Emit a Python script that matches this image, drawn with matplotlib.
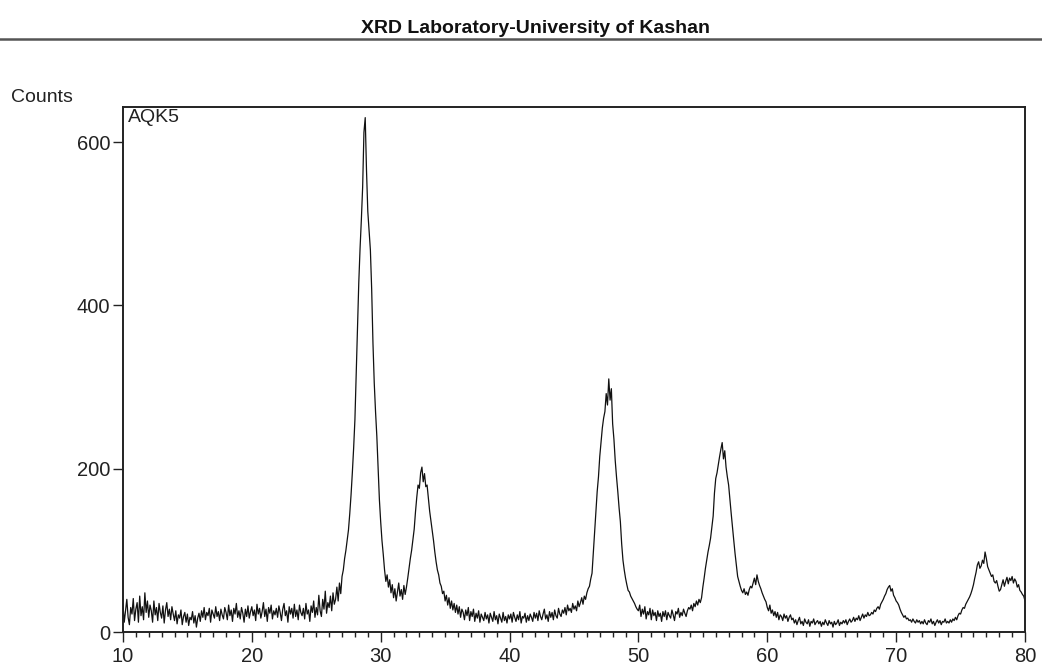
import matplotlib.pyplot as plt
import numpy as np
from matplotlib.lines import Line2D
from matplotlib.ticker import MultipleLocator

plt.rcParams['font.family'] = ['Liberation Sans', 'DejaVu Sans']

# 2-theta scan, 10-80 deg in 0.1 deg steps
two_theta_start = 10.0
two_theta_step = 0.1

# counts, one row per 2 degrees
counts = [
    34, 12, 26, 40, 18, 9, 30, 22, 41, 14, 28, 36, 12, 44, 20, 31, 15, 48, 24, 38,                    # 10
    18, 33, 26, 12, 38, 21, 30, 14, 35, 24, 17, 32, 11, 27, 36, 19, 28, 15, 31, 22,                    # 12
    14, 26, 10, 21, 17, 27, 9, 19, 24, 12, 22, 8, 18, 15, 25, 11, 20, 6, 17, 23,                       # 14
    13, 26, 18, 30, 15, 24, 20, 29, 12, 27, 22, 17, 31, 19, 25, 14, 28, 21, 16, 30,                    # 16
    24, 15, 33, 20, 27, 13, 29, 22, 35, 18, 26, 16, 30, 23, 12, 28, 19, 32, 17, 25,                    # 18
    31, 20, 27, 14, 34, 22, 29, 17, 25, 36, 19, 28, 13, 30, 23, 33, 16, 26, 21, 29,                    # 20
    18, 32, 24, 14, 28, 35, 20, 26, 12, 31, 22, 29, 17, 34, 19, 27, 15, 33, 24, 20,                    # 22
    29, 16, 35, 22, 27, 13, 32, 24, 38, 18, 30, 21, 45, 26, 19, 40, 28, 50, 23, 36,                    # 24
    30, 44, 26, 48, 34, 40, 55, 38, 60, 47, 68, 76, 90, 100, 112, 125, 145, 168, 195, 225,             # 26
    260, 315, 370, 428, 470, 505, 545, 612, 630, 565, 515, 492, 468, 420, 354, 305, 270, 240, 200, 162,  # 28
    135, 112, 95, 76, 62, 70, 55, 64, 48, 58, 42, 53, 38, 49, 60, 44, 52, 40, 57, 46,                  # 30
    55, 66, 78, 90, 100, 113, 126, 147, 165, 180, 176, 195, 202, 184, 194, 178, 180, 164, 148, 136,    # 32
    124, 112, 98, 86, 76, 70, 60, 56, 47, 50, 38, 45, 33, 42, 29, 38, 27, 35, 24, 33,                  # 34
    22, 31, 18, 28, 24, 15, 27, 20, 30, 14, 25, 19, 28, 13, 23, 17, 26, 12, 22, 18,                    # 36
    14, 24, 16, 21, 11, 23, 18, 13, 25, 15, 20, 10, 22, 17, 12, 24, 14, 19, 11, 21,                    # 38
    16, 22, 12, 24, 18, 13, 21, 15, 25, 11, 19, 17, 23, 12, 20, 14, 22, 18, 13, 24,                    # 40
    17, 23, 14, 26, 19, 15, 22, 28, 16, 21, 13, 25, 18, 24, 15, 27, 20, 17, 29, 22,                    # 42
    19, 27, 23, 30, 21, 33, 26, 29, 24, 35, 28, 32, 26, 38, 31, 36, 42, 34, 44, 40,                    # 44
    48, 53, 56, 65, 72, 96, 122, 148, 172, 190, 215, 232, 250, 262, 270, 292, 278, 310, 284, 298,      # 46
    255, 236, 210, 190, 172, 152, 135, 108, 88, 76, 66, 58, 51, 49, 44, 41, 38, 35, 31, 28,            # 48
    26, 33, 19, 28, 22, 31, 16, 25, 21, 29, 15, 27, 20, 24, 14, 26, 19, 23, 13, 25,                    # 50
    19, 26, 15, 24, 20, 17, 27, 21, 14, 25, 22, 29, 18, 24, 20, 28, 23, 19, 26, 30,                    # 52
    28, 33, 26, 35, 31, 38, 33, 40, 36, 42, 55, 66, 78, 88, 98, 106, 115, 128, 142, 170,               # 54
    188, 195, 205, 215, 224, 232, 212, 222, 202, 190, 180, 162, 145, 128, 112, 96, 82, 68, 62, 56,     # 56
    51, 48, 53, 46, 49, 45, 52, 56, 54, 60, 66, 58, 70, 62, 57, 53, 48, 44, 40, 37,                    # 58
    30, 26, 33, 23, 27, 20, 25, 18, 24, 15, 21, 19, 14, 22, 17, 20, 13, 18, 21, 15,                    # 60
    17, 11, 15, 9, 14, 18, 10, 13, 8, 16, 12, 10, 15, 7, 13, 11, 16, 9, 12, 14,                        # 62
    10, 13, 7, 12, 9, 15, 11, 8, 14, 10, 12, 6, 13, 9, 11, 15, 8, 12, 10, 14,                          # 64
    11, 15, 9, 13, 16, 12, 14, 18, 13, 17, 15, 20, 14, 18, 22, 17, 21, 19, 24, 20,                     # 66
    21, 24, 22, 27, 25, 29, 31, 28, 34, 37, 40, 44, 47, 52, 55, 57, 50, 53, 45, 42,                    # 68
    38, 36, 33, 28, 24, 21, 18, 20, 16, 17, 14, 15, 12, 16, 13, 11, 15, 12, 14, 10,                    # 70
    13, 10, 15, 11, 9, 14, 12, 16, 10, 13, 8, 12, 15, 11, 14, 9, 13, 12, 16, 11,                       # 72
    13, 11, 15, 12, 16, 14, 18, 15, 20, 23, 22, 27, 30, 29, 34, 37, 40, 43, 47, 52,                    # 74
    58, 66, 73, 82, 86, 78, 81, 88, 84, 98, 90, 80, 76, 72, 68, 70, 62, 60, 63, 56,                    # 76
    50, 52, 58, 64, 56, 62, 67, 59, 66, 63, 68, 60, 65, 62, 55, 58, 51, 49, 46, 44,                    # 78
    38,                                                                                                # 80
]
two_theta = two_theta_start + two_theta_step * np.arange(len(counts))

x_ticks = [10, 20, 30, 40, 50, 60, 70, 80]
y_ticks = [0, 200, 400, 600]

fig = plt.figure(figsize=(10.42, 6.70), dpi=100)
ax = fig.add_axes([0.118, 0.0567, 0.8657, 0.7836])

ax.plot(two_theta, counts, color='#111111', linewidth=0.9)

ax.set_xlim(10, 80)
ax.set_ylim(0, 643)
ax.set_xticks(x_ticks)
ax.set_yticks(y_ticks)
ax.xaxis.set_minor_locator(MultipleLocator(1))
ax.tick_params(axis='both', which='major', direction='out', length=7, width=1,
               labelsize=14.5, colors='#222222')
ax.tick_params(axis='x', which='minor', direction='out', length=3.5, width=1,
               colors='#222222')
ax.tick_params(axis='x', which='major', pad=4)
ax.tick_params(axis='y', which='major', pad=2)
for sp in ax.spines.values():
    sp.set_linewidth(1.4)
    sp.set_color('#222222')

# sample name in the corner
ax.text(0.006, 0.997, 'AQK5', transform=ax.transAxes, ha='left', va='top',
        fontsize=14, color='#222222')

# header
fig.text(0.514, 0.958, 'XRD Laboratory-University of Kashan', ha='center', va='center',
         fontsize=14, fontweight='bold', color='#111111')
fig.add_artist(Line2D([0, 1], [0.942, 0.942], color='#555555', linewidth=1.8,
                      transform=fig.transFigure))
fig.text(0.011, 0.855, 'Counts', ha='left', va='center', fontsize=14, color='#222222')

fig.savefig('out.png', dpi=100)
